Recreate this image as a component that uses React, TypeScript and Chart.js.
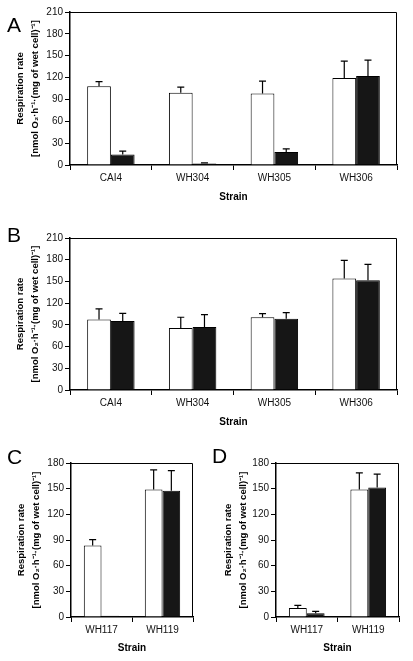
import React, { useEffect, useRef } from "react";
import { Chart, registerables } from "chart.js";
Chart.register(...registerables);

// ---------- data ----------
const strainsAB = ["CAI4", "WH304", "WH305", "WH306"];
const strainsCD = ["WH117", "WH119"];

const aWhite = [108, 99, 98, 119.5];
const aWhiteErr = [6.5, 8, 17, 23];
const aBlack = [14.5, 2, 18, 122];
const aBlackErr = [4.5, 1, 4, 22];

const bWhite = [97.5, 85.5, 100.5, 154];
const bWhiteErr = [14.5, 15, 5, 25];
const bBlack = [95.5, 87, 98.5, 151.5];
const bBlackErr = [10.5, 17, 8.5, 22];

const cWhite = [83.5, 149];
const cWhiteErr = [7, 23];
const cBlack = [1.5, 147.5];
const cBlackErr = [0, 23.5];

const dWhite = [10.5, 149];
const dWhiteErr = [3, 19.5];
const dBlack = [4.5, 151.5];
const dBlackErr = [2, 15.5];

const yMaxAB = 210;
const yMaxCD = 180;
const yStep = 30;

const yTitle = ["Respiration rate", "[nmol O\u2082\u00B7h\u207B\u00B9\u00B7(mg of wet cell)\u207B\u00B9]"];
const xTitle = "Strain";

const FONT = '"Liberation Sans", Arial, Helvetica, sans-serif';

// ---------- plugins ----------
const errorBarPlugin = {
  id: "errorBars",
  afterDatasetsDraw(chart: any, _args: any, opts: any) {
    const ctx = chart.ctx;
    const y = chart.scales.y;
    const errs = opts.errors || [];
    chart.data.datasets.forEach((ds: any, di: number) => {
      const meta = chart.getDatasetMeta(di);
      const e = errs[di] || [];
      meta.data.forEach((bar: any, i: number) => {
        const err = e[i];
        if (!err) return;
        const v = ds.data[i];
        const yTop = y.getPixelForValue(v + err);
        const yBar = y.getPixelForValue(v);
        ctx.save();
        ctx.strokeStyle = "#000";
        ctx.lineWidth = 1.2;
        ctx.beginPath();
        ctx.moveTo(bar.x, yBar);
        ctx.lineTo(bar.x, yTop);
        ctx.moveTo(bar.x - 3.5, yTop);
        ctx.lineTo(bar.x + 3.5, yTop);
        ctx.stroke();
        ctx.restore();
      });
    });
  },
};

const framePlugin = {
  id: "frame",
  afterDraw(chart: any) {
    const { ctx, chartArea } = chart;
    ctx.save();
    ctx.strokeStyle = "#000";
    ctx.lineWidth = 1;
    ctx.beginPath();
    ctx.moveTo(chartArea.left, chartArea.top + 0.5);
    ctx.lineTo(chartArea.right - 0.5, chartArea.top + 0.5);
    ctx.lineTo(chartArea.right - 0.5, chartArea.bottom);
    ctx.stroke();
    ctx.restore();
  },
};

const letterPlugin = {
  id: "panelLetter",
  afterDraw(chart: any, _args: any, opts: any) {
    const ctx = chart.ctx;
    ctx.save();
    ctx.fillStyle = "#000";
    ctx.font = `21px ${FONT}`;
    ctx.textAlign = "left";
    ctx.textBaseline = "alphabetic";
    ctx.fillText(opts.letter, opts.x, opts.y);
    ctx.restore();
  },
};

type PanelCfg = {
  left: number; top: number; w: number; h: number;
  pad: { top: number; right: number; left: number; bottom: number };
  yWidth: number; xHeight: number; titlePad: number;
  letter: string; lx: number; ly: number;
  labels: string[]; white: number[]; black: number[];
  whiteErr: number[]; blackErr: number[]; yMax: number;
};

function Panel({ cfg }: { cfg: PanelCfg }) {
  const ref = useRef<HTMLCanvasElement>(null);
  useEffect(() => {
    const chart = new Chart(ref.current as HTMLCanvasElement, {
      type: "bar",
      data: {
        labels: cfg.labels,
        datasets: [
          {
            data: cfg.white,
            backgroundColor: "#ffffff",
            borderColor: "#000",
            borderWidth: 1,
            categoryPercentage: 0.58,
            barPercentage: 1,
          },
          {
            data: cfg.black,
            backgroundColor: "#161616",
            borderColor: "#000",
            borderWidth: 1,
            categoryPercentage: 0.58,
            barPercentage: 1,
          },
        ],
      },
      options: {
        animation: false,
        responsive: false,
        devicePixelRatio: 1,
        layout: { padding: cfg.pad },
        plugins: {
          legend: { display: false },
          tooltip: { enabled: false },
          errorBars: { errors: [cfg.whiteErr, cfg.blackErr] },
          panelLetter: { letter: cfg.letter, x: cfg.lx, y: cfg.ly },
        } as any,
        scales: {
          x: {
            ticks: { font: { family: FONT, size: 10 }, color: "#111", padding: 2, maxRotation: 0 },
            grid: { drawOnChartArea: false, drawTicks: true, tickLength: 5, color: "#000", offset: true },
            border: { display: true, color: "#000", width: 1.5 },
            title: {
              display: true,
              text: xTitle,
              font: { family: FONT, size: 10, weight: "bold" },
              color: "#000",
              padding: { top: 0, bottom: 7 },
            },
            afterFit: (s: any) => { s.height = cfg.xHeight; },
          } as any,
          y: {
            min: 0,
            max: cfg.yMax,
            ticks: { stepSize: yStep, font: { family: FONT, size: 10 }, color: "#111", padding: 2 },
            grid: { drawOnChartArea: false, drawTicks: true, tickLength: 5, color: "#000" },
            border: { display: true, color: "#000", width: 1.5 },
            title: {
              display: true,
              text: yTitle,
              font: { family: FONT, size: 9.5, weight: "bold", lineHeight: 1.58 },
              color: "#000",
              padding: { top: cfg.titlePad, bottom: 0 },
            },
            afterFit: (s: any) => { s.width = cfg.yWidth; },
          } as any,
        },
      },
      plugins: [errorBarPlugin, framePlugin, letterPlugin],
    });
    return () => chart.destroy();
  }, []);
  return (
    <canvas
      ref={ref}
      width={cfg.w}
      height={cfg.h}
      style={{ position: "absolute", left: cfg.left, top: cfg.top, width: cfg.w, height: cfg.h, display: "block" }}
    />
  );
}

const panels: PanelCfg[] = [
  {
    left: 0, top: 0, w: 413, h: 210,
    pad: { top: 12, right: 16, left: 0, bottom: 0 },
    yWidth: 70, xHeight: 45, titlePad: 12.5,
    letter: "A", lx: 7, ly: 32,
    labels: strainsAB, white: aWhite, black: aBlack, whiteErr: aWhiteErr, blackErr: aBlackErr, yMax: yMaxAB,
  },
  {
    left: 0, top: 210, w: 413, h: 225,
    pad: { top: 28, right: 16, left: 0, bottom: 0 },
    yWidth: 70, xHeight: 45, titlePad: 12.5,
    letter: "B", lx: 7, ly: 32,
    labels: strainsAB, white: bWhite, black: bBlack, whiteErr: bWhiteErr, blackErr: bBlackErr, yMax: yMaxAB,
  },
  {
    left: 0, top: 435, w: 206, h: 226,
    pad: { top: 28, right: 13, left: 0, bottom: 0 },
    yWidth: 71, xHeight: 44, titlePad: 13.5,
    letter: "C", lx: 7, ly: 29,
    labels: strainsCD, white: cWhite, black: cBlack, whiteErr: cWhiteErr, blackErr: cBlackErr, yMax: yMaxCD,
  },
  {
    left: 206, top: 435, w: 207, h: 226,
    pad: { top: 28, right: 14, left: 0, bottom: 0 },
    yWidth: 70, xHeight: 44, titlePad: 14.5,
    letter: "D", lx: 6, ly: 28,
    labels: strainsCD, white: dWhite, black: dBlack, whiteErr: dWhiteErr, blackErr: dBlackErr, yMax: yMaxCD,
  },
];

export default function App() {
  return (
    <div style={{ position: "fixed", left: 0, top: 0, width: 413, height: 661, background: "#fff", overflow: "hidden" }}>
      {panels.map((p) => (
        <Panel key={p.letter} cfg={p} />
      ))}
    </div>
  );
}
